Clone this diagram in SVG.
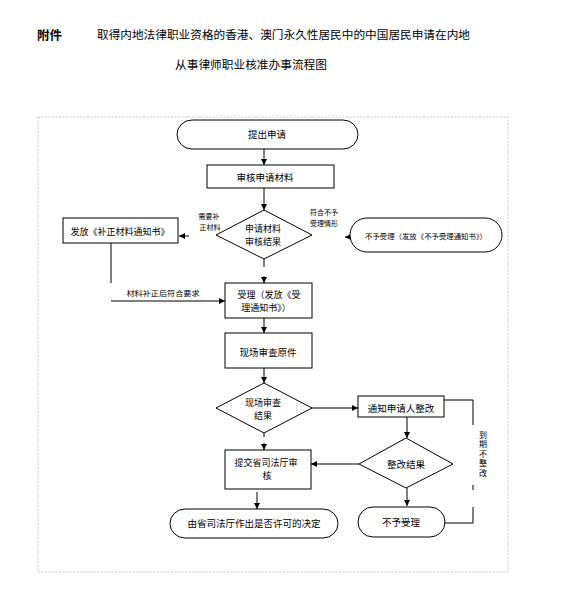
<svg xmlns="http://www.w3.org/2000/svg" width="564" height="600" viewBox="0 0 564 600">
<style>
text{font-family:"Noto Sans CJK SC","Noto Sans",sans-serif;fill:#000;dominant-baseline:central}
.t{font-size:9.5px;text-anchor:middle}
.t2{font-size:9px;text-anchor:middle}
.s{font-size:7px;text-anchor:middle}
.v{font-size:8px;text-anchor:middle}
.n{fill:#fff;stroke:#000;stroke-width:1}
.c{fill:none;stroke:#000;stroke-width:1}
.frame{fill:none;stroke:#bbb;stroke-width:0.8;stroke-dasharray:2,1.5}
</style>
<defs>
<marker id="ah" markerWidth="6" markerHeight="6" refX="6" refY="3" orient="auto" markerUnits="userSpaceOnUse">
<path d="M0,0 L6,3 L0,6 Z" fill="#000"/>
</marker>
</defs>
<rect width="564" height="600" fill="#fff"/>
<g id="title">
<text x="37" y="34" style="font-size:12.5px;font-weight:bold">附件</text>
<text x="97" y="34" style="font-size:11.6px" textLength="373" lengthAdjust="spacingAndGlyphs">取得内地法律职业资格的香港、澳门永久性居民中的中国居民申请在内地</text>
<text x="175" y="64" style="font-size:11.6px" textLength="152" lengthAdjust="spacingAndGlyphs">从事律师职业核准办事流程图</text>
</g>
<rect class="frame" x="38" y="117" width="470" height="455"/>
<g id="connectors">
<line class="c" x1="264" y1="149" x2="264" y2="165" marker-end="url(#ah)"/>
<line class="c" x1="264" y1="188" x2="264" y2="210" marker-end="url(#ah)"/>
<line class="c" x1="189" y1="236" x2="179" y2="236" marker-end="url(#ah)"/>
<line class="c" x1="264" y1="259" x2="264" y2="267"/>
<line class="c" x1="264" y1="276" x2="264" y2="283" marker-end="url(#ah)"/>
<line class="c" x1="111" y1="243" x2="111" y2="283"/>
<line class="c" x1="111" y1="301" x2="225" y2="301" marker-end="url(#ah)"/>
<line class="c" x1="352" y1="237" x2="345" y2="237" marker-end="url(#ah)"/>
<line class="c" x1="264" y1="318" x2="264" y2="333" marker-end="url(#ah)"/>
<line class="c" x1="264" y1="368" x2="264" y2="383" marker-end="url(#ah)"/>
<line class="c" x1="264" y1="433" x2="264" y2="437"/>
<line class="c" x1="264" y1="443" x2="264" y2="450" marker-end="url(#ah)"/>
<line class="c" x1="312" y1="408" x2="358" y2="408" marker-end="url(#ah)"/>
<line class="c" x1="407" y1="417" x2="407" y2="438" marker-end="url(#ah)"/>
<line class="c" x1="359" y1="464" x2="311" y2="464" marker-end="url(#ah)"/>
<line class="c" x1="407" y1="488" x2="407" y2="506" marker-end="url(#ah)"/>
<line class="c" x1="257" y1="492" x2="257" y2="509" marker-end="url(#ah)"/>
<polyline class="c" points="444,400 473,400 473,425"/>
<line class="c" x1="473" y1="485" x2="473" y2="490"/>
<polyline class="c" points="473,507 473,523 445,523"/>
<text class="s" x="209" y="216">需要补</text>
<text class="s" x="210" y="227">正材料</text>
<text class="s" x="324" y="212">符合不予</text>
<text class="s" x="324" y="223">受理情形</text>
<text class="s" x="163" y="293" textLength="73" lengthAdjust="spacingAndGlyphs">材料补正后符合要求</text>
<text class="v" x="483" y="434">到</text>
<text class="v" x="483" y="443.5">期</text>
<text class="v" x="483" y="453">不</text>
<text class="v" x="483" y="462.5">整</text>
<text class="v" x="483" y="472">改</text>
</g>
<g id="n-start"><rect class="n" x="177" y="120" width="181" height="29" rx="15" ry="14.5"/><text class="t" x="267" y="134">提出申请</text></g>
<g id="n-review"><rect class="n" x="207" y="165" width="127" height="23"/><text class="t" x="265" y="177">审核申请材料</text></g>
<g id="n-d1"><polygon class="n" points="264,210 312,235 264,259 216,235"/><text class="t2" x="263" y="228.5">申请材料</text><text class="t2" x="263" y="241.5">审核结果</text></g>
<g id="n-supp"><rect class="n" x="63" y="218" width="115" height="25"/><text class="t" x="120" y="231" style="font-size:9px">发放《补正材料通知书》</text></g>
<g id="n-reject1"><rect class="n" x="350" y="218" width="152" height="34" rx="17" ry="17"/><text class="s" x="426" y="236" textLength="122" lengthAdjust="spacingAndGlyphs">不予受理（发放《不予受理通知书》）</text></g>
<g id="n-accept"><rect class="n" x="225" y="283" width="87" height="35"/><text class="t2" x="269" y="294.5">受理（发放《受</text><text class="t2" x="266" y="307.5">理通知书》）</text></g>
<g id="n-check"><rect class="n" x="225" y="333" width="87" height="35"/><text class="t" x="268" y="352">现场审查原件</text></g>
<g id="n-d2"><polygon class="n" points="264,383 312,408 264,433 216,408"/><text class="t2" x="263" y="402">现场审查</text><text class="t2" x="263" y="415">结果</text></g>
<g id="n-notify"><rect class="n" x="358" y="396" width="86" height="21"/><text class="t" x="401" y="408">通知申请人整改</text></g>
<g id="n-d3"><polygon class="n" points="406,438 453,464 406,488 359,464"/><text class="t" x="406" y="464">整改结果</text></g>
<g id="n-submit"><rect class="n" x="225" y="450" width="86" height="39"/><text class="t2" x="266" y="462">提交省司法厅审</text><text class="t2" x="267" y="475">核</text></g>
<g id="n-decision"><rect class="n" x="170" y="509" width="168" height="29" rx="15" ry="14.5"/><text class="t" x="254" y="523">由省司法厅作出是否许可的决定</text></g>
<g id="n-reject2"><rect class="n" x="358" y="507" width="87" height="30" rx="15" ry="15"/><text class="t" x="401" y="522">不予受理</text></g>
</svg>
